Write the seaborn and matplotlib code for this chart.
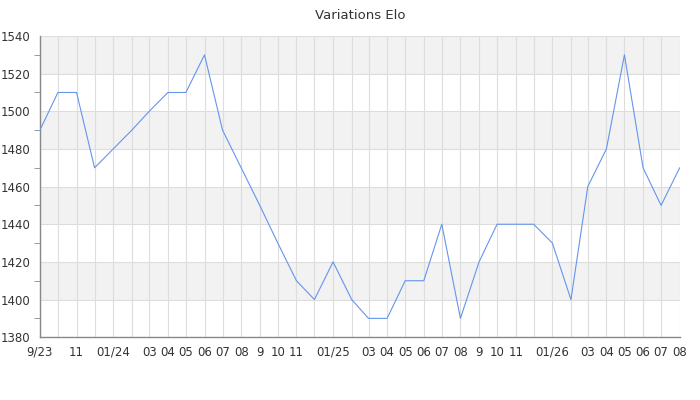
import seaborn as sns
import matplotlib.pyplot as plt
import matplotlib.ticker as mticker
import pandas as pd

sns.set_style('white')
plt.rcParams['font.family'] = ['DejaVu Sans']

# monthly Elo values, Sep 2023 -> Aug 2026
months = pd.date_range('2023-09-01', periods=36, freq='MS')
elo = [1490, 1510, 1510, 1470, 1480, 1490, 1500, 1510, 1510, 1530, 1490, 1470,
       1450, 1430, 1410, 1400, 1420, 1400, 1390, 1390, 1410, 1410, 1440, 1390,
       1420, 1440, 1440, 1440, 1430, 1400, 1460, 1480, 1530, 1470, 1450, 1470]
tick_labels = ['9/23', '', '11', '', '01/24', '', '03', '04', '05', '06', '07', '08',
               '9', '10', '11', '', '01/25', '', '03', '04', '05', '06', '07', '08',
               '9', '10', '11', '', '01/26', '', '03', '04', '05', '06', '07', '08']
y_ticks = [1380, 1400, 1420, 1440, 1460, 1480, 1500, 1520, 1540]

df = pd.DataFrame({'month': months, 'elo': elo})

fig, ax = plt.subplots(figsize=(7, 4), dpi=100)
fig.subplots_adjust(left=0.057, right=0.971, top=0.91, bottom=0.157)

# alternating bands
for i, (lo, hi) in enumerate(zip(y_ticks[:-1], y_ticks[1:])):
    if i % 2 == 1:
        ax.axhspan(lo, hi, color='#f2f2f2', zorder=0, lw=0)

sns.lineplot(data=df, x='month', y='elo', ax=ax, color='#6495ed', linewidth=0.8, zorder=3)

ax.set_xlim(months[0], months[-1])
ax.set_ylim(y_ticks[0], y_ticks[-1])
ax.set_xticks(months)
ax.set_xticklabels(tick_labels)
ax.set_yticks(y_ticks)
ax.yaxis.set_minor_locator(mticker.MultipleLocator(10))

ax.grid(True, which='major', color='#dddddd', linewidth=0.8, zorder=1)
ax.set_axisbelow(True)

for s in ['top', 'right']:
    ax.spines[s].set_visible(False)
for s in ['left', 'bottom']:
    ax.spines[s].set_color('#888888')
    ax.spines[s].set_linewidth(1)

ax.tick_params(axis='x', length=0, labelsize=8.5, labelcolor='#333333', pad=6)
ax.tick_params(axis='y', which='major', length=4, color='#888888', labelsize=8.5, labelcolor='#333333', pad=3)
ax.tick_params(axis='y', which='minor', length=4, color='#888888', left=True)

ax.set_xlabel('')
ax.set_ylabel('')
ax.set_title('Variations Elo', fontsize=9.5, color='#333333', pad=12)

plt.savefig('out.png', dpi=100)
